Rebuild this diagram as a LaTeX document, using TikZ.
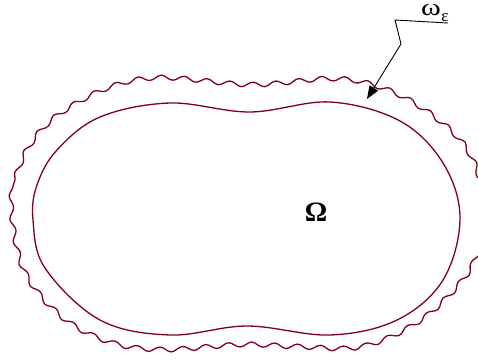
\documentclass[tikz,border=0pt]{standalone}
\usepackage{fontspec}
\setmainfont{Liberation Serif}
\usetikzlibrary{arrows.meta,decorations.pathmorphing}
\definecolor{curvecol}{RGB}{128,0,24}
\tikzset{
  innercurve/.style={draw=curvecol, line width=1.3pt},
  wavycurve/.style={draw=curvecol, line width=1.3pt,
    decorate, decoration={snake, amplitude=2.4pt, segment length=23pt}},
  leaderline/.style={draw=black, line width=0.9pt},
}
\begin{document}
\begin{tikzpicture}[x=1pt,y=-1pt]
\useasboundingbox (0,0) rectangle (478,362);
% inner domain Omega
\draw[innercurve] plot[smooth cycle, tension=0.6] coordinates {
  (33,220) (37,185) (57,150) (100,117) (170,103) (250,112) (330,102)
  (400,121) (443,163) (460,218) (443,280) (397,320) (330,335) (247,326)
  (170,335) (100,320) (45,268)};
% outer wavy boundary layer
\draw[wavycurve] plot[smooth cycle, tension=0.6] coordinates {
  (10,217) (15,180) (30,148) (57,120) (107,93) (160,83) (250,90)
  (330,84) (377,92) (420,113) (460,147) (478,183) (483,218) (478,253)
  (460,287) (417,327) (360,352) (297,352) (240,350) (160,355) (107,347)
  (60,322) (23,277)};
% labels
\node (Om) at (316,212) {\fontsize{28}{30}\selectfont\bfseries Ω};
\node[inner sep=0pt, anchor=base west] (om) at (421,15.5) {\fontsize{24}{26}\selectfont\scalebox{1.25}[1]{ω}\hspace{0.5pt}\raisebox{-6pt}{\fontsize{17}{18}\selectfont ε}};
% leader with arrow
\coordinate (l0) at (448,23);
\coordinate (l1) at (395,20);
\coordinate (l2) at (401,44);
\coordinate (tip) at (367,99);
\draw[leaderline, -{Triangle[length=13pt,width=10pt]}] (l0) -- (l1) -- (l2) -- (tip);
\end{tikzpicture}
\end{document}
